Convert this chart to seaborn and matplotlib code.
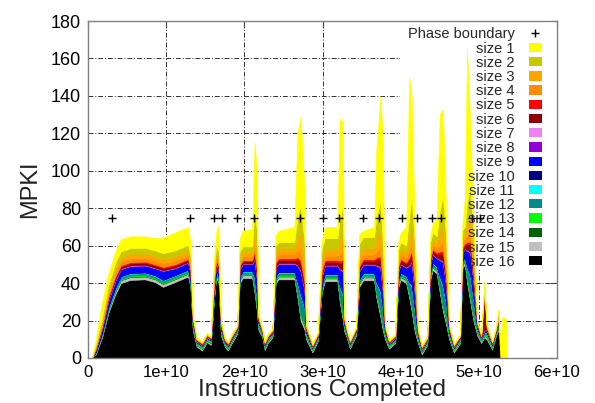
import numpy as np
import matplotlib
matplotlib.use("Agg")
import matplotlib.pyplot as plt
import seaborn as sns
from matplotlib.patches import Patch, Rectangle
from matplotlib.lines import Line2D

# ---------------- data (x in units of 1e10 instructions) ----------------
x_e10 = [0.05, 0.10, 0.18, 0.26, 0.35, 0.42, 0.54, 0.73, 0.86, 0.96, 1.11, 1.28, 1.31,
         1.34, 1.39, 1.46, 1.52, 1.57, 1.61, 1.64, 1.67, 1.70, 1.75, 1.79, 1.84, 1.91,
         1.94, 1.98, 2.10, 2.13, 2.16, 2.18, 2.23, 2.26, 2.30, 2.36,
         2.40, 2.44, 2.64, 2.68, 2.72, 2.77, 2.79, 2.87, 2.94,
         2.99, 3.03, 3.19, 3.22, 3.26, 3.28, 3.31, 3.35, 3.43,
         3.47, 3.52, 3.66, 3.69, 3.74, 3.77, 3.80, 3.85, 3.93,
         3.97, 4.00, 4.07, 4.11, 4.14, 4.18, 4.22, 4.27, 4.34,
         4.38, 4.41, 4.46, 4.50, 4.54, 4.58, 4.62, 4.68, 4.76,
         4.79, 4.82, 4.85, 4.89, 4.93, 4.98, 5.03, 5.07, 5.10, 5.17, 5.22, 5.25,
         5.28, 5.30, 5.35, 5.36]

size16 = [0, 2, 11, 24, 34, 40, 41.7, 42, 40.5, 38, 40.5, 43.5, 38,
          15, 6, 4, 8.5, 7, 30, 43, 40, 12, 6, 4, 8, 13,
          40, 42.7, 42.7, 35, 25, 15, 11, 4.3, 8, 11,
          40, 42, 42, 32, 20, 15, 10, 3, 9,
          35, 41, 41, 30, 20, 14, 11, 5, 12,
          38, 41.5, 41.5, 32, 22, 15, 10, 5, 8,
          38, 41.7, 40, 32, 25, 14, 8, 2, 7,
          42, 47, 45, 35, 25, 18, 10, 3, 8,
          48, 50, 40, 30, 20, 12, 8, 11, 10, 4.5, 12, 15,
          0, 0, 0, 0]
size15 = [0, .5, 1, 1.3, 1.5, 1.5, 1.5, 1.5, 1.5, 1.5, 1.5, 1.5, 1.5,
          1.2, .8, .8, .8, .8, 1.5, 1.5, 1.5, 1.2, .8, .8, .8, .8,
          1.5, 1.5, 1.5, 1.8, 1.8, 1.2, .8, .8, .8, .8,
          1.5, 1.5, 1.5, 1.8, 2, 2, 1.2, .8, .8,
          1.5, 1.5, 1.5, 1.8, 2, 1.2, .8, .8, .8,
          1.5, 1.5, 1.5, 1.8, 2, 2, 1.2, .8, .8,
          1.5, 1.5, 1.5, 1.8, 2, 2, 1.2, .8, .8,
          1.5, 1.5, 1.5, 1.8, 2, 2, 1.2, .8, .8,
          1.5, 1.5, 1.8, 2, 2, 1.2, .8, .8, 1.2, .8, .8, 1.2,
          0, 0, 0, 0]
size14 = [0, .1, .2, .3, .3, .3, .3, .3, .3, .3, .3, .3, .3,
          .3, .2, .2, .2, .2, .3, .3, .3, .3, .2, .2, .2, .2,
          .3, .3, .3, .4, .4, .3, .2, .2, .2, .2,
          .3, .3, .3, .4, .5, .5, .3, .2, .2,
          .3, .3, .3, .4, .5, .3, .2, .2, .2,
          .3, .3, .3, .4, .5, .5, .3, .2, .2,
          .3, .3, .3, .4, .5, .5, .3, .2, .2,
          .3, .3, .3, .4, .5, .5, .3, .2, .2,
          .3, .3, .4, .5, .5, .3, .2, .2, .3, .2, .2, .3,
          0, 0, 0, 0]
size13 = [0, .2, .3, .4, .5, .5, .5, .5, .5, .5, .5, .5, .5,
          .8, .7, .7, .7, .7, .5, .5, .5, .8, .7, .7, .7, .7,
          .5, .5, .5, .6, .6, .8, .7, .7, .7, .7,
          .5, .5, .5, .6, .8, .8, .8, .7, .7,
          .5, .5, .5, .6, .8, .8, .7, .7, .7,
          .5, .5, .5, .6, .8, .8, .8, .7, .7,
          .5, .5, .5, .6, .8, .8, .8, .7, .7,
          .5, .5, .5, .6, .8, .8, .8, .7, .7,
          .5, .5, .6, .8, .8, .8, .7, .7, .8, .7, .7, .8,
          0, 0, 0, 0]
size12 = [0, .3, .6, .9, 1, 1, 1, 1, 1, 1, 1, 1, 1,
          1, .4, .4, .4, .4, 1, 1, 1, 1, .4, .4, .4, .4,
          1, 1, 1, 5, 5, 1, .4, .4, .4, .4,
          1.2, 1.2, 1.2, 5, 10, 8, 1, .4, .4,
          1.2, 1.2, 1.2, 5, 10, 1, .4, .4, .4,
          1.2, 1.2, 1.2, 5, 10, 8, 1, .4, .4,
          1.2, 1.2, 1.2, 5, 10, 8, 1, .4, .4,
          1.2, 1.2, 1.2, 5, 10, 8, 1, .4, .4,
          1.2, 1.2, 5, 10, 8, 1, .4, .8, 1, .4, .4, 1,
          0, 0, 0, 0]
size11 = [0, .1, .2, .3, .3, .3, .3, .3, .3, .3, .3, .3, .3,
          .3, .2, .2, .2, .2, .3, .3, .3, .3, .2, .2, .2, .2,
          .3, .3, .3, .5, .5, .3, .2, .2, .2, .2,
          .3, .3, .3, .5, .7, .6, .3, .2, .2,
          .3, .3, .3, .5, .7, .3, .2, .2, .2,
          .3, .3, .3, .5, .7, .6, .3, .2, .2,
          .3, .3, .3, .5, .7, .6, .3, .2, .2,
          .3, .3, .3, .5, .7, .6, .3, .2, .2,
          .3, .3, .5, .7, .6, .3, .2, .2, .3, .2, .2, .3,
          0, 0, 0, 0]
size10 = [0, .1, .2, .3, .3, .3, .3, .3, .3, .3, .3, .3, .3,
          .3, .1, .1, .1, .1, .3, .3, .3, .3, .1, .1, .1, .1,
          .3, .3, .3, .7, .7, .3, .1, .1, .1, .1,
          .4, .4, .4, .7, 1, .8, .3, .1, .1,
          .4, .4, .4, .7, 1, .3, .1, .1, .1,
          .4, .4, .4, .7, 1, .8, .3, .1, .1,
          .4, .4, .4, .7, 1, .8, .3, .1, .1,
          .4, .4, .4, .7, 1, .8, .3, .1, .1,
          .4, .4, .7, 1, .8, .3, .1, .2, .3, .1, .1, .3,
          0, 0, 0, 0]
size9 = [0, 1, 2, 3, 3.4, 3.4, 3.4, 3.4, 3.4, 4.5, 3.4, 3.4, 3.4,
         .8, .2, .2, .2, .2, 3.4, 3.4, 3.4, .8, .2, .2, .2, .2,
         3.4, 3.4, 3.4, 8, 8, .8, .2, .2, .2, .2,
         4, 4, 4, 8, 11, 8, .8, .2, .2,
         4, 4, 4, 8, 11, .8, .2, .2, .2,
         4, 4, 4, 8, 11, 8, .8, .2, .2,
         4, 4, 4, 8, 11, 8, .8, .2, .2,
         4, 4, 4, 8, 11, 8, .8, .2, .2,
         4, 4, 8, 11, 8, .8, .2, .6, .8, .2, .2, .8,
         0, 0, 0, 0]
size8 = [0, .1, .1, .2, .2, .2, .2, .2, .2, .2, .2, .2, .2,
         .2, .2, .2, .2, .2, .2, .2, .2, .2, .2, .2, .2, .2,
         .2, .2, .2, .4, .4, .2, .2, .2, .2, .2,
         .2, .2, .2, .4, .5, .4, .2, .2, .2,
         .2, .2, .2, .4, .5, .2, .2, .2, .2,
         .2, .2, .2, .4, .5, .4, .2, .2, .2,
         .2, .2, .2, .4, .5, .4, .2, .2, .2,
         .2, .2, .2, .4, .5, .4, .2, .2, .2,
         .2, .2, .4, .5, .4, .2, .2, .2, .2, .2, .2, .2,
         0, 0, 0, 0]
size7 = [0, .1, .1, .2, .2, .2, .2, .2, .2, .2, .2, .2, .2,
         .2, .2, .2, .2, .2, .2, .2, .2, .2, .2, .2, .2, .2,
         .2, .2, .2, .3, .3, .2, .2, .2, .2, .2,
         .2, .2, .2, .3, .3, .3, .2, .2, .2,
         .2, .2, .2, .3, .3, .2, .2, .2, .2,
         .2, .2, .2, .3, .3, .3, .2, .2, .2,
         .2, .2, .2, .3, .3, .3, .2, .2, .2,
         .2, .2, .2, .3, .3, .3, .2, .2, .2,
         .2, .2, .3, .3, .3, .2, .2, .2, .2, .2, .2, .2,
         0, 0, 0, 0]
size6 = [0, .4, .7, 1, 1.2, 1.2, 1.2, 1.2, 1.2, 1.2, 1.2, 1.2, 1.2,
         .4, .2, .2, .2, .2, 1.2, 1.2, 1.2, .4, .2, .2, .2, .2,
         1.2, 1.2, 1.2, 3, 3, .4, .2, .2, .2, .2,
         1.8, 1.8, 1.8, 3, 4, 3, .4, .2, .2,
         1.8, 1.8, 1.8, 3, 4, .4, .2, .2, .2,
         1.8, 1.8, 1.8, 3, 4, 3, .4, .2, .2,
         1.8, 1.8, 1.8, 3, 4, 3, .4, .2, .2,
         1.8, 1.8, 1.8, 3, 4, 3, .4, .2, .2,
         1.8, 1.8, 3, 4, 3, .4, .2, 18, .4, .2, .2, .4,
         0, 0, 0, 0]
size5 = [0, .2, .4, .5, .6, .6, .6, .6, .6, .6, .6, .6, .6,
         .6, .5, .5, .5, .5, .6, .6, .6, .6, .5, .5, .5, .5,
         .6, .6, .6, 1.2, 1.2, .6, .5, .5, .5, .5,
         .8, .8, .8, 1.2, 1.5, 1.2, .6, .5, .5,
         .8, .8, .8, 1.2, 1.5, .6, .5, .5, .5,
         .8, .8, .8, 1.2, 1.5, 1.2, .6, .5, .5,
         .8, .8, .8, 1.2, 1.5, 1.2, .6, .5, .5,
         .8, .8, .8, 1.2, 1.5, 1.2, .6, .5, .5,
         .8, .8, 1.2, 1.5, 1.2, .6, .5, 2, .6, .5, .5, .6,
         0, 0, 0, 0]
size4 = [0, .6, 1.2, 1.7, 2, 2, 2, 2, 2, 2, 2, 2, 2,
         .5, .2, .2, .2, .2, 2, 2, 2, .5, .2, .2, .2, .2,
         2, 2, 2, 3.5, 3.5, .5, .2, .2, .2, .2,
         2.5, 2.5, 2.5, 3.5, 4, 3, .5, .2, .2,
         2.5, 2.5, 2.5, 3.5, 4, .5, .2, .2, .2,
         2.5, 2.5, 2.5, 3.5, 4, 3, .5, .2, .2,
         2.5, 2.5, 2.5, 3.5, 4, 3, .5, .2, .2,
         2.5, 2.5, 2.5, 3.5, 4, 3, .5, .2, .2,
         2.5, 2.5, 3.5, 4, 3, .5, .2, 1.5, .5, .2, .2, .5,
         0, 0, 0, 0]
size3 = [0, .7, 1.4, 2, 2.3, 2.3, 2.3, 2.3, 2.3, 2.3, 2.3, 2.3, 2.3,
         .5, .2, .2, .2, .2, 2.3, 2.3, 2.3, .5, .2, .2, .2, .2,
         2.3, 2.3, 2.3, 7, 7, .5, .2, .2, .2, .2,
         2.8, 2.8, 2.8, 7, 10, 8, .5, .2, .2,
         3.3, 3.3, 3.3, 7, 10, .5, .2, .2, .2,
         3.3, 3.3, 3.3, 7, 10, 8, .5, .2, .2,
         2.8, 2.8, 2.8, 7, 10, 8, .5, .2, .2,
         2.8, 2.8, 2.8, 7, 10, 8, .5, .2, .2,
         2.8, 2.8, 7, 10, 8, .5, .2, 1.5, .5, .2, .2, 3,
         0, 0, 0, 0]
size2 = [0, 1, 2, 2.7, 3.1, 3.1, 3.1, 3.1, 3.1, 3.1, 3.1, 3.1, 3.1,
         .5, .2, .2, .2, .2, 3.1, 3.1, 3.1, .5, .2, .2, .2, .2,
         3.1, 3.1, 3.1, 11, 11, .5, .2, .2, .2, .2,
         3.5, 3.5, 3.5, 11, 15, 10, .5, .2, .2,
         6, 6, 6, 11, 15, .5, .2, .2, .2,
         6, 6, 6, 11, 15, 10, .5, .2, .2,
         3.5, 3.5, 3.5, 11, 15, 10, .5, .2, .2,
         3.5, 3.5, 3.5, 11, 15, 10, .5, .2, .2,
         3.5, 3.5, 11, 15, 10, .5, .2, 1, .5, .2, .2, .5,
         0, 0, 0, 0]
size1 = [0, 2.6, 8.6, 6.2, 6.1, 6.6, 6.4, 6.1, 6.6, 8.3, 9.6, 9.6, 7.1,
         1.4, .7, .7, .7, .7, 5.1, 7.1, 14.1, .9, .7, .7, .7, .7,
         7.1, 8.4, 9.4, 36.6, 31.6, 1.4, .7, .7, .7, .7,
         6, 6, 8, 44.6, 47.7, 28.4, .4, .7, .7,
         4, 6, 6, 54.6, 44.7, .4, .7, .7, .7,
         5, 3.5, 5.5, 36.6, 56.7, 58.4, .4, .7, .7,
         4, 5.3, 10, 74.6, 53.7, 9.4, .4, .7, .7,
         4, 5, 10, 51.6, 46.7, 15.4, .4, .7, .7,
         4, 15, 81.6, 33.7, 8.4, .4, .7, 2, .4, .7, .7, 1,
         3, 22, 21, 0]

size_labels = ['size 1', 'size 2', 'size 3', 'size 4', 'size 5', 'size 6', 'size 7', 'size 8',
               'size 9', 'size 10', 'size 11', 'size 12', 'size 13', 'size 14', 'size 15', 'size 16']
size_colors = ['#FFFF00', '#C8C800', '#FFA500', '#FF8C00', '#FF0000', '#8B0000', '#EE82EE', '#9400D3',
               '#0000FF', '#00008B', '#00FFFF', '#008B8B', '#00FF00', '#006400', '#C0C0C0', '#000000']

phase_x_e10 = [0.31, 1.30, 1.61, 1.71, 1.91, 2.12, 2.42, 2.71, 3.01, 3.21,
               3.52, 3.72, 4.02, 4.21, 4.40, 4.52, 4.91, 5.02]
phase_y = [75] * len(phase_x_e10)

xtick_vals = [0, 1e10, 2e10, 3e10, 4e10, 5e10, 6e10]
xtick_labels = ['0', '1e+10', '2e+10', '3e+10', '4e+10', '5e+10', '6e+10']
ytick_vals = [0, 20, 40, 60, 80, 100, 120, 140, 160, 180]

# ---------------- plotting ----------------
sns.set_theme(style="white")
plt.rcParams['font.family'] = ['Liberation Sans', 'DejaVu Sans']

W, H = 595, 403
fig = plt.figure(figsize=(W / 100, H / 100), dpi=100)
ax = fig.add_axes([88 / W, 1 - 358 / H, (557 - 88) / W, (358 - 21) / H])

x = np.array(x_e10) * 1e10
series_top_down = [size1, size2, size3, size4, size5, size6, size7, size8,
                   size9, size10, size11, size12, size13, size14, size15, size16]
polys = ax.stackplot(x, *series_top_down[::-1], colors=size_colors[::-1],
                     linewidth=0.4, zorder=2)
for p in polys:
    p.set_edgecolor(p.get_facecolor())

# key background (hides the grid behind the key)
ax.add_patch(Rectangle((3.99e10, 47), 2.1e10, 140, facecolor='white',
                       edgecolor='none', zorder=1.5))

sns.scatterplot(x=np.array(phase_x_e10) * 1e10, y=phase_y, marker='+', color='black',
                s=40, linewidth=1, ax=ax, zorder=3, legend=False)

ax.set_xlim(0, 6e10)
ax.set_ylim(0, 180)
ax.set_xticks(xtick_vals)
ax.set_xticklabels(xtick_labels)
ax.set_yticks(ytick_vals)
ax.set_axisbelow(True)
ax.grid(True, color='#303030', linestyle=(0, (5, 2, 1, 2)), linewidth=0.7)

ax.tick_params(axis='both', direction='in', length=5, width=0.8, color='#404040',
               top=True, right=True, labelcolor='black', pad=5)
ax.tick_params(axis='x', labelsize=12)
ax.tick_params(axis='y', labelsize=13)
for s in ax.spines.values():
    s.set_color('#808080')
    s.set_linewidth(1.0)

ax.set_xlabel('Instructions Completed', fontsize=17.5, labelpad=-1, color='#222222')
ax.set_ylabel('MPKI', fontsize=17, labelpad=7, color='#222222')

handles = [Line2D([], [], marker='+', linestyle='None', color='black',
                  markersize=6, markeredgewidth=1)]
handles += [Patch(facecolor=c, edgecolor='none') for c in size_colors]
labels = ['Phase boundary'] + size_labels
leg = ax.legend(handles, labels, loc='upper right',
                bbox_to_anchor=(1 - 11 / 469, 1 - 2 / 337), borderaxespad=0,
                borderpad=0.3, frameon=False, markerfirst=False, fontsize=10.5,
                handlelength=0.85, handleheight=0.6, handletextpad=1.0,
                labelspacing=0.015)
leg.set_zorder(5)

fig.savefig('out.png', dpi=100)
